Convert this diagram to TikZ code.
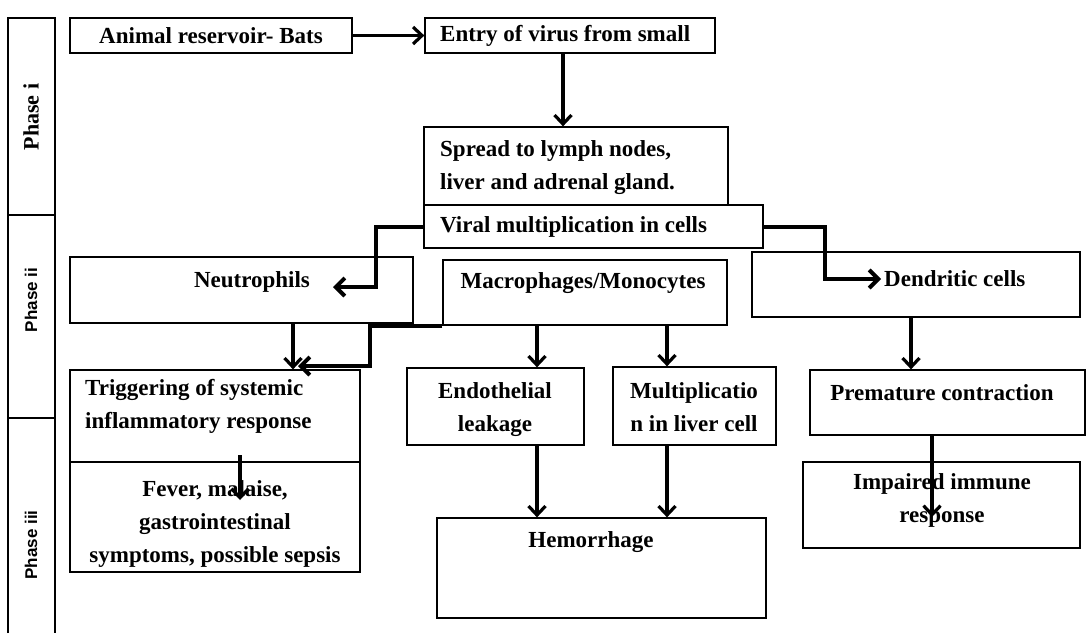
\documentclass[tikz,border=0pt]{standalone}
\usepackage{fontspec}
\setmainfont{Liberation Serif}
\setsansfont{Liberation Sans}
\usetikzlibrary{arrows.meta,fit}
\begin{document}
\begin{tikzpicture}[x=1pt,y=-1pt,
  box/.style={draw, line width=1.3pt, inner sep=0pt},
  txt/.style={font=\fontsize{23}{33}\selectfont\bfseries, inner sep=0pt},
  arr/.style={line width=3.2pt, -{Straight Barb[length=9pt,width=17pt]}},
  elb/.style={line width=4pt, -{Straight Barb[length=9pt,width=18pt]}},
  phase/.style={rotate=90, inner sep=0pt}]
\useasboundingbox[fill=white] (0,0) rectangle (1086,633);

% phase column
\node[box, fit={(8,18) (55,215)}] (p1) {};
\node[box, fit={(8,215) (55,418)}] (p2) {};
\draw[line width=1.3pt] (8,633) -- (8,418) -- (55,418) -- (55,633);
\node[phase, font=\fontsize{22}{24}\selectfont\bfseries] (p1T) at (31,117) {Phase i};
\node[phase, font=\sffamily\fontsize{17}{20}\selectfont\bfseries] (p2T) at (31,300) {Phase ii};
\node[phase, font=\sffamily\fontsize{17}{20}\selectfont\bfseries] (p3T) at (31,545) {Phase iii};

% boxes
\node[box, fit={(70,18) (352,53)}] (anim) {};
\node[box, fit={(425,18) (715,53)}] (entry) {};
\node[box, fit={(424,127) (728,205)}] (spread) {};
\node[box, fit={(424,205) (763,248)}] (viral) {};
\node[box, fit={(70,257) (413,323)}] (neut) {};
\node[box, fit={(443,260) (727,325)}] (macro) {};
\node[box, fit={(752,252) (1080,317)}] (dend) {};
\node[box, fit={(70,370) (360,462)}] (trig) {};
\node[box, fit={(70,462) (360,572)}] (fever) {};
\node[box, fit={(407,368) (584,445)}] (endo) {};
\node[box, fit={(613,367) (776,445)}] (mult) {};
\node[box, fit={(437,518) (766,618)}] (hem) {};
\node[box, fit={(810,370) (1085,435)}] (prem) {};
\node[box, fit={(803,462) (1080,548)}] (imp) {};

% texts
\node[txt] (animT) at (211,36) {Animal reservoir- Bats};
\node[txt, anchor=west] (entryT) at (440,36) {Entry of virus from small};
\node[txt, anchor=west, align=left] (spreadT) at (440,168) {Spread to lymph nodes,\\liver and adrenal gland.};
\node[txt, anchor=west] (viralT) at (440,227) {Viral multiplication in cells};
\node[txt] (neutT) at (252,282) {Neutrophils};
\node[txt] (macroT) at (583,283) {Macrophages/Monocytes};
\node[txt, anchor=west] (dendT) at (884,279) {Dendritic cells};
\node[txt, anchor=west, align=left] (trigT) at (85,406) {Triggering of systemic\\inflammatory response};
\node[txt, align=center] (feverT) at (215,524) {Fever, malaise,\\gastrointestinal\\symptoms, possible sepsis};
\node[txt, align=center] (endoT) at (495,410) {Endothelial\\leakage};
\node[txt, align=center] (multT) at (694,407) {Multiplicatio\\n in liver cell};
\node[txt] (hemT) at (591,542) {Hemorrhage};
\node[txt] (premT) at (942,393) {Premature contraction};
\node[txt, align=center] (impT) at (942,500) {Impaired immune\\response};

% helper coordinates
\coordinate (c563) at (563,0);
\coordinate (c293) at (293,0);
\coordinate (c537) at (537,0);
\coordinate (c667) at (667,0);
\coordinate (c911) at (911,0);
\coordinate (c932) at (932,0);
\coordinate (nA) at (376,287);
\coordinate (nT) at (333,287);
\coordinate (dA) at (825,279);
\coordinate (dT) at (881,279);
\coordinate (mB) at (370,366);
\coordinate (mT) at (298,366);
\coordinate (tS) at (240,455);
\coordinate (tE) at (240,500);
\coordinate (iE) at (932,517);

% connectors
\draw[arr] (anim.east) -- (entry.west);
\draw[arr] (entry.south -| c563) -- (spread.north -| c563);
\draw[elb] (viral.west) -| (nA) -- (nT);
\draw[elb] (viral.east) -| (dA) -- (dT);
\draw[elb] (macro.south west) -| (mB) -- (mT);
\draw[arr] (neut.south -| c293) -- (trig.north -| c293);
\draw[arr] (macro.south -| c537) -- (endo.north -| c537);
\draw[arr] (macro.south -| c667) -- (mult.north -| c667);
\draw[arr] (tS) -- (tE);
\draw[arr] (endo.south -| c537) -- (hem.north -| c537);
\draw[arr] (mult.south -| c667) -- (hem.north -| c667);
\draw[arr] (dend.south -| c911) -- (prem.north -| c911);
\draw[arr] (prem.south -| c932) -- (iE);
\end{tikzpicture}
\end{document}
